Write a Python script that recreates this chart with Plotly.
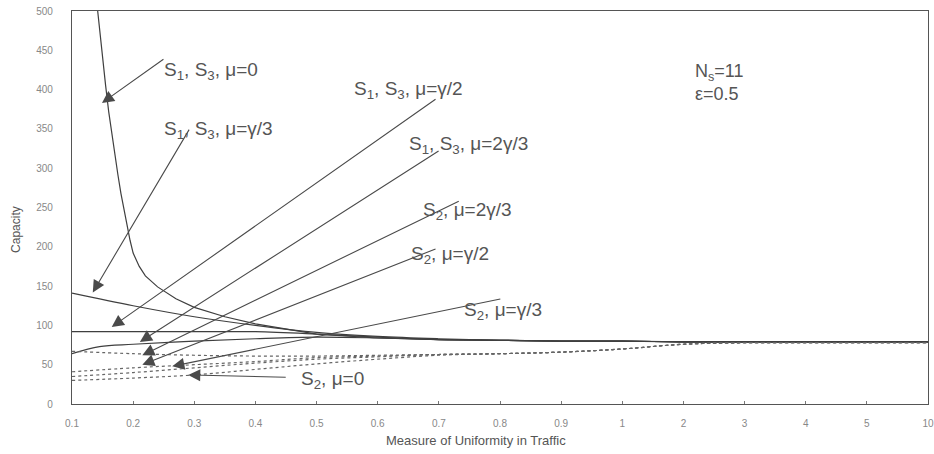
import numpy as np
import plotly.graph_objects as go

# Category axis (equally spaced tick labels)
tick_vals = [0.1, 0.2, 0.3, 0.4, 0.5, 0.6, 0.7, 0.8, 0.9, 1, 2, 3, 4, 5, 10]
tick_text = ["0.1", "0.2", "0.3", "0.4", "0.5", "0.6", "0.7", "0.8", "0.9", "1", "2", "3", "4", "5", "10"]

# S1, S3, mu=0 (hyperbolic curve)
x_s13_mu0 = [0.142, 0.145, 0.15, 0.155, 0.16, 0.165, 0.17, 0.175, 0.18, 0.185, 0.19, 0.195, 0.2, 0.21, 0.22,
             0.24, 0.27, 0.3, 0.35, 0.4, 0.5, 0.6, 0.7, 0.8, 0.9, 1, 2, 3, 4, 5, 10]
y_s13_mu0 = [500, 477, 440, 405, 372, 343, 317, 292, 268, 247, 226, 208, 192, 175, 163,
             149, 134, 123, 111, 102, 89, 84, 82, 81, 80, 80, 79, 79, 79, 79, 79]

# Solid S1,S3 curves on the category grid
x_grid = tick_vals
y_s13_g3 = [141, 125, 111, 100, 91, 86, 83, 81, 80, 80, 79, 79, 79, 79, 79]
y_s13_g2 = [92, 92, 92, 92, 89, 85, 82, 81, 80, 80, 79, 79, 79, 79, 79]
x_s13_2g3 = [0.1, 0.145, 0.2, 0.3, 0.4, 0.5, 0.6, 0.7, 0.8, 0.9, 1, 2, 3, 4, 5, 10]
y_s13_2g3 = [64, 73, 76, 80, 83, 85, 84, 82, 81, 80, 80, 79, 79, 79, 79, 79]

# Dotted S2 curves
y_s2_2g3 = [67, 64, 62, 61, 61, 62, 63, 64, 66, 70, 76, 78, 78, 78, 78]
y_s2_g2 = [41, 46, 50, 54, 59, 61, 63, 64, 66, 70, 76, 78, 78, 78, 78]
y_s2_g3 = [35, 40, 46, 52, 57, 60, 63, 64, 66, 70, 76, 78, 78, 78, 78]
y_s2_mu0 = [30, 33, 37, 44, 51, 57, 62, 64, 66, 70, 76, 78, 78, 78, 78]

positions = list(range(len(tick_vals)))


def pos(xs):
    return np.interp(xs, tick_vals, positions)


solid = dict(color="#3f3f3f", width=1.2)
dotted = dict(color="#666666", width=1.2, dash="dot")

fig = go.Figure()
fig.add_trace(go.Scatter(x=pos(x_s13_mu0), y=y_s13_mu0, mode="lines", line=solid, name="S1,S3 mu=0"))
fig.add_trace(go.Scatter(x=pos(x_grid), y=y_s13_g3, mode="lines", line=solid, line_shape="spline", name="S1,S3 mu=g/3"))
fig.add_trace(go.Scatter(x=pos(x_grid), y=y_s13_g2, mode="lines", line=solid, line_shape="spline", name="S1,S3 mu=g/2"))
fig.add_trace(go.Scatter(x=pos(x_s13_2g3), y=y_s13_2g3, mode="lines", line=solid, line_shape="spline", name="S1,S3 mu=2g/3"))
for ys, nm in [(y_s2_2g3, "S2 2g/3"), (y_s2_g2, "S2 g/2"), (y_s2_g3, "S2 g/3"), (y_s2_mu0, "S2 mu=0")]:
    fig.add_trace(go.Scatter(x=pos(x_grid), y=ys, mode="lines", line=dotted, line_shape="spline", name=nm))

lab_font = dict(family="Liberation Sans, Arial", size=19, color="#555555")
arrow_color = "#4a4a4a"

# (label, tip_idx, tip_val, tail_idx, tail_val, label_idx, label_val)
arrows = [
    ("S<sub>1</sub>, S<sub>3</sub>, μ=0", 0.49, 383, 1.52, 440, 1.47, 424),
    ("S<sub>1</sub>, S<sub>3</sub>, μ=γ/3", 0.34, 142, 1.93, 351, 1.47, 349),
    ("S<sub>1</sub>, S<sub>3</sub>, μ=γ/2", 0.65, 98, 5.97, 389, 4.58, 399),
    ("S<sub>1</sub>, S<sub>3</sub>, μ=2γ/3", 1.11, 79, 6.02, 323, 5.48, 329),
    ("S<sub>2</sub>, μ=2γ/3", 1.15, 62, 6.35, 259, 5.70, 245),
    ("S<sub>2</sub>, μ=γ/2", 1.15, 50, 5.97, 198, 5.51, 190),
    ("S<sub>2</sub>, μ=γ/3", 1.64, 48, 7.03, 134, 6.38, 118),
    ("S<sub>2</sub>, μ=0", 1.90, 37, 3.52, 34, 3.71, 30),
]
annotations = []
for text, tx, ty, ax, ay, lx, ly in arrows:
    annotations.append(dict(x=tx, y=ty, ax=ax, ay=ay, xref="x", yref="y", axref="x", ayref="y",
                            text="", showarrow=True, arrowhead=2, arrowsize=2.2, arrowwidth=1.1,
                            arrowcolor=arrow_color))
    annotations.append(dict(x=lx, y=ly, xref="x", yref="y", text=text, showarrow=False,
                            xanchor="left", yanchor="middle", font=lab_font))

annotations.append(dict(x=10.15, y=409, xref="x", yref="y", showarrow=False, xanchor="left", yanchor="middle",
                        align="left", text="N<sub>s</sub>=11<br>ε=0.5", font=dict(family="Liberation Sans, Arial", size=18, color="#555555")))

annotations.append(dict(x=-0.0654, y=0.443, xref="paper", yref="paper", text="Capacity", textangle=-90,
                        xanchor="center", yanchor="middle",
                        showarrow=False, font=dict(family="Liberation Sans, Arial", size=12, color="#555555")))
annotations.append(dict(x=0.472, y=-0.094, xref="paper", yref="paper", text="Measure of Uniformity in Traffic",
                        xanchor="center", yanchor="middle",
                        showarrow=False, font=dict(family="Liberation Sans, Arial", size=13, color="#555555")))

fig.update_layout(
    width=934, height=454,
    margin=dict(l=72, r=6, t=11, b=50),
    paper_bgcolor="white", plot_bgcolor="white",
    showlegend=False,
    annotations=annotations,
    xaxis=dict(range=[0, 14], tickmode="array", tickvals=positions, ticktext=tick_text,
               showgrid=False, zeroline=False, showline=True, linecolor="#555555", linewidth=1.2, mirror=True,
               ticks="inside", ticklen=3, tickcolor="#777777", ticklabeloverflow="allow", automargin=False,
               tickfont=dict(family="Liberation Sans, Arial", size=10, color="#888888"), ticklabelstandoff=10),
    yaxis=dict(range=[0, 500], tickmode="array", tickvals=list(range(0, 501, 50)),
               showgrid=False, zeroline=False, showline=True, linecolor="#555555", linewidth=1.2, mirror=True,
               ticks="", ticklabeloverflow="allow", automargin=False,
               tickfont=dict(family="Liberation Sans, Arial", size=10, color="#888888"),
               ticklabelstandoff=16),
)

# Remove the default 8px page margin so the figure fills the window exactly.
fig.write_html("out.html", config={"displayModeBar": False},
               post_script="document.body.style.margin='0';document.body.style.overflow='hidden';")
